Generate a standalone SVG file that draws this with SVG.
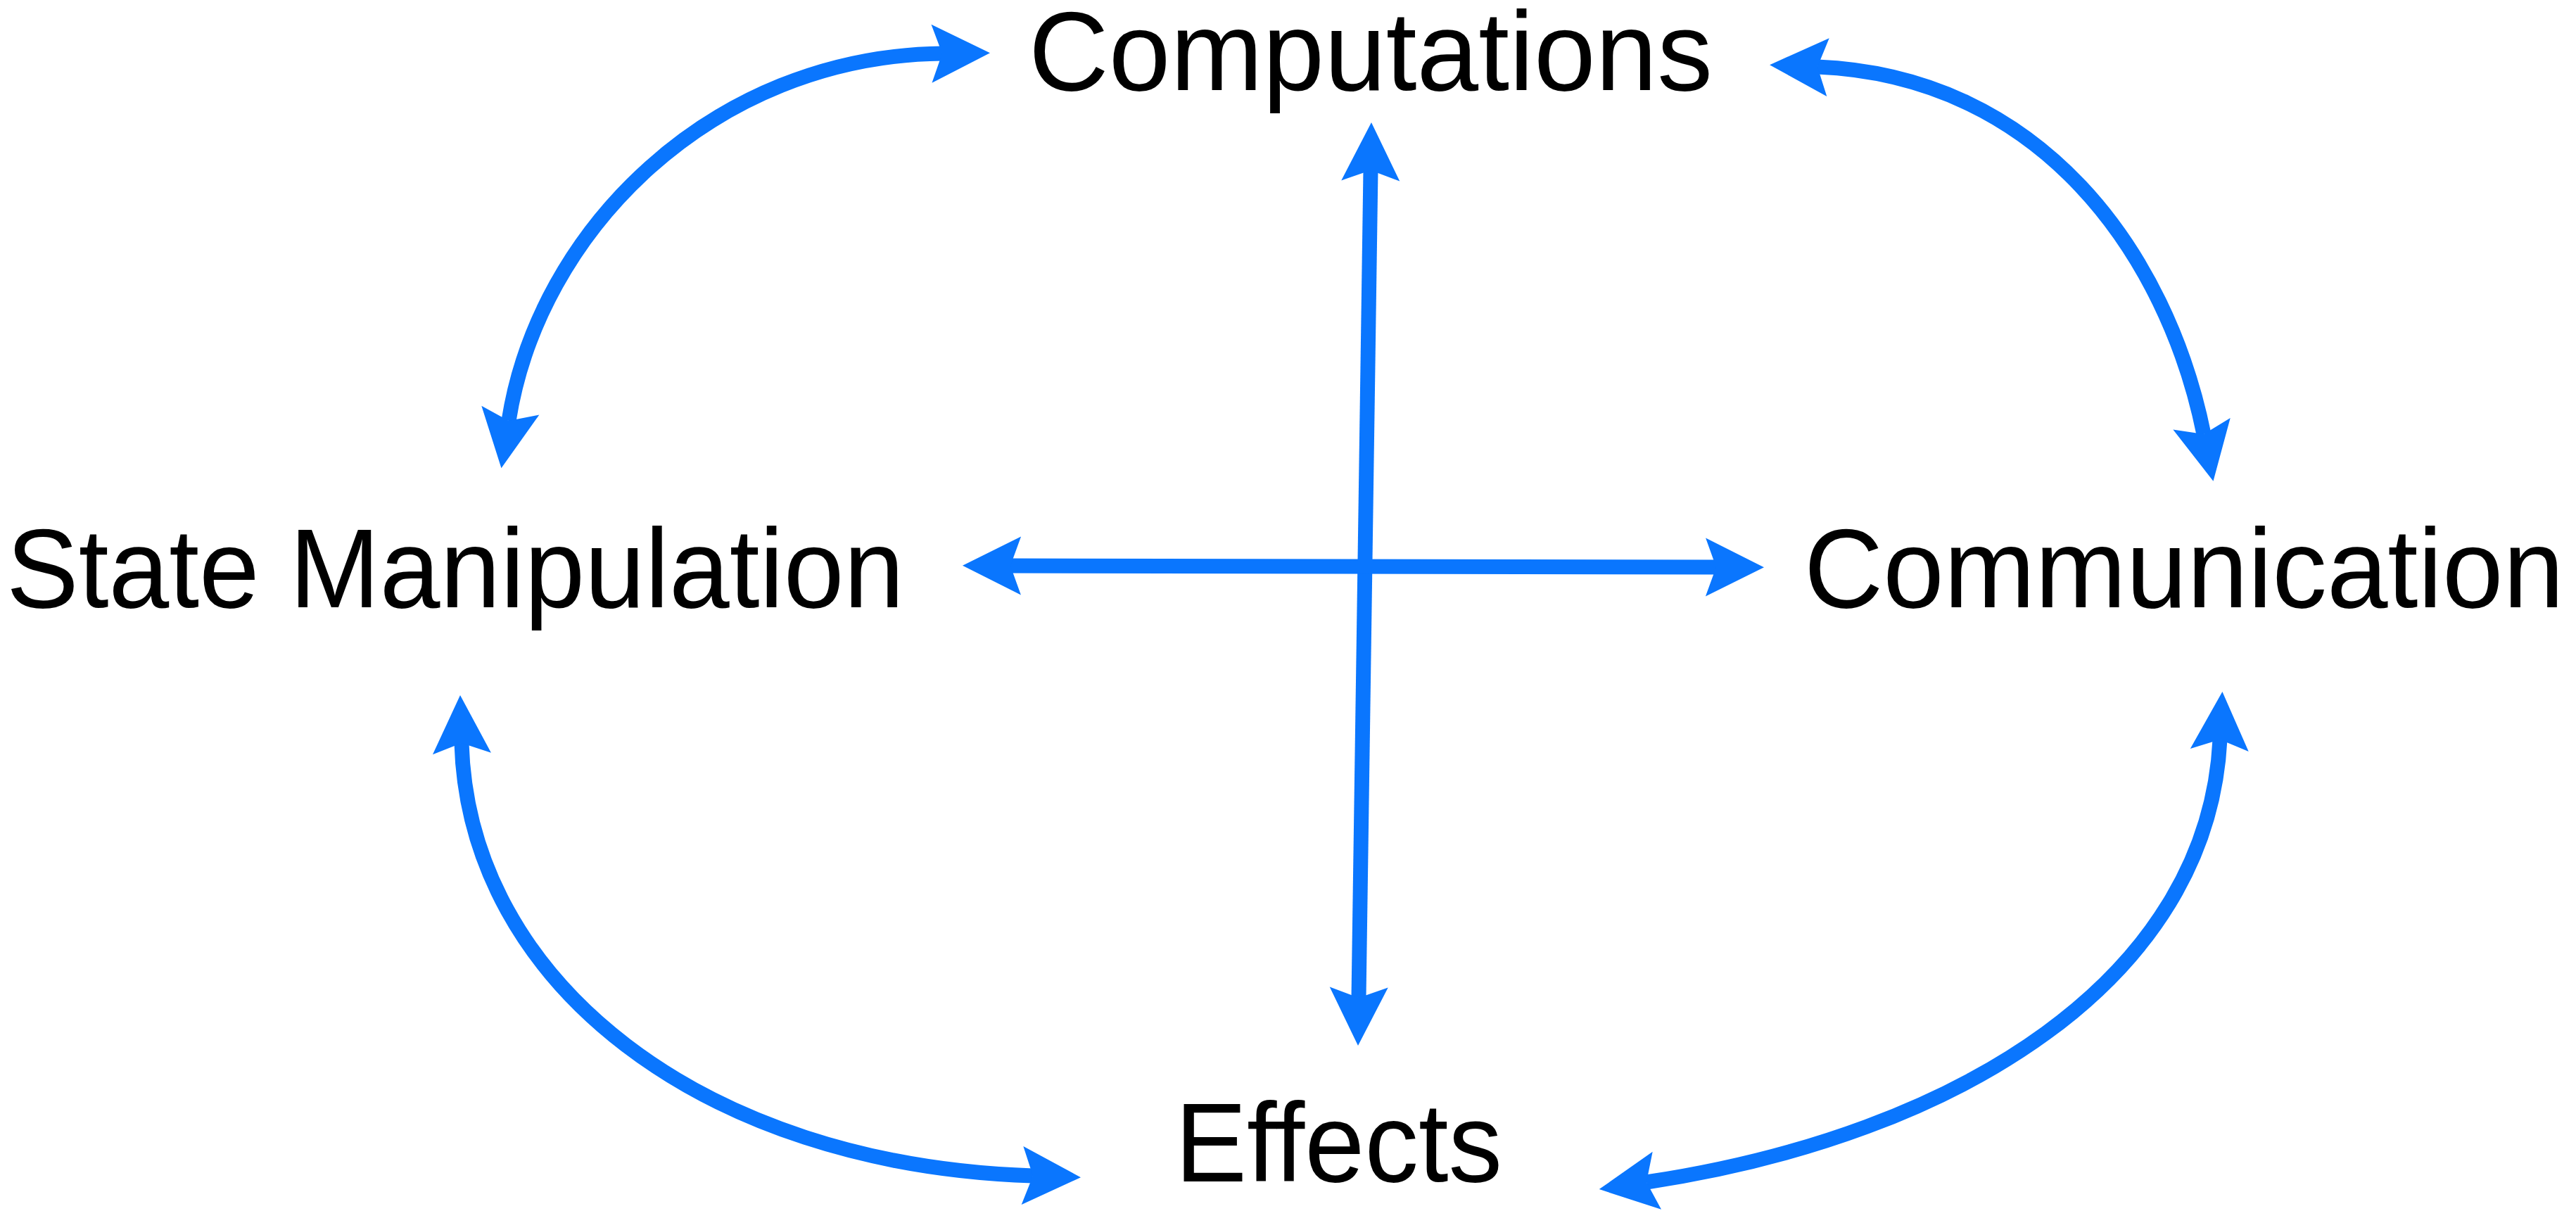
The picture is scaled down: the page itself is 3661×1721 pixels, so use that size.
<svg xmlns="http://www.w3.org/2000/svg" width="3661" height="1721" viewBox="0 0 3661 1721">
  <style>
    .label { font-family: "Liberation Sans", Arial, Helvetica, sans-serif; font-size: 160px; fill: #000; }
    .conn { fill: none; stroke: #0A76FE; stroke-width: 21; marker-start: url(#head); marker-end: url(#head); }
  </style>
  <defs>
    <marker id="head" markerUnits="userSpaceOnUse" orient="auto-start-reverse" markerWidth="200" markerHeight="200" refX="0" refY="0" viewBox="-100 -100 200 200" overflow="visible">
      <path d="M68,0 L-15,-41.5 L0,0 L-15,41.5 Z" fill="#0A76FE"/>
    </marker>
  </defs>
  <rect width="3661" height="1721" fill="#fff"/>
  <g id="connectors">
    <path class="conn" d="M1948,242 L1931,1418"/>
    <path class="conn" d="M1436,804 L2439,806"/>
    <path class="conn" d="M723,598 C765,330 1010,80 1339,76"/>
    <path class="conn" d="M2583,95 C2900,108 3080,360 3132,617"/>
    <path class="conn" d="M656,1056 C666,1396 998,1656 1468,1671"/>
    <path class="conn" d="M2340,1680 C2785,1613 3138,1391 3155,1051"/>
  </g>
  <g id="node-computations">
    <text class="label" x="1462" y="128" textLength="972" lengthAdjust="spacingAndGlyphs">Computations</text>
  </g>
  <g id="node-state">
    <text class="label" x="9" y="863" textLength="1276" lengthAdjust="spacingAndGlyphs">State Manipulation</text>
  </g>
  <g id="node-communication">
    <text class="label" x="2564" y="863" textLength="1080" lengthAdjust="spacingAndGlyphs">Communication</text>
  </g>
  <g id="node-effects">
    <text class="label" x="1670" y="1679" textLength="465" lengthAdjust="spacingAndGlyphs">Effects</text>
  </g>
</svg>
